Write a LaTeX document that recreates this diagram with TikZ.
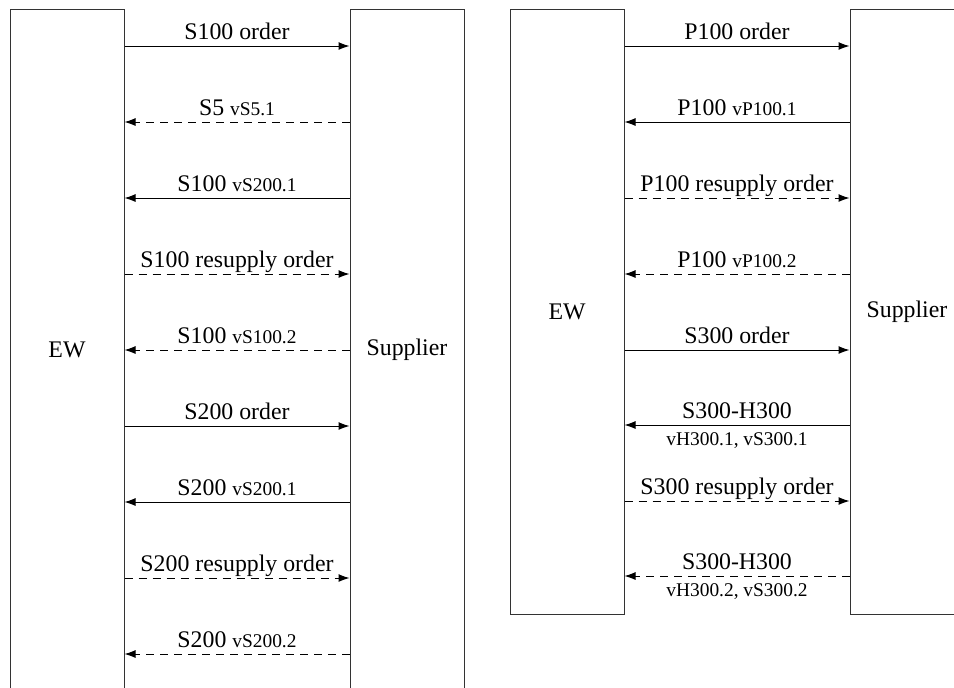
\documentclass[tikz,border=0pt]{standalone}
\usepackage{fontspec}
\setmainfont{Liberation Serif}
\usetikzlibrary{arrows.meta}
\newcommand\lblsmall{\fontsize{9.7}{11}\selectfont}
\begin{document}
\begin{tikzpicture}[x=0.5pt,y=-0.5pt,
  lane/.style={draw=black!80, line width=0.5pt, minimum width=57pt, inner sep=0pt, font=\fontsize{11.9}{14}\selectfont},
  msg/.style={line width=0.5pt, -{Latex[length=5.5pt,width=4pt]}},
  dsh/.style={dash pattern=on 4pt off 3pt},
  lbl/.style={midway, anchor=base, inner sep=0pt, yshift=3.5pt, font=\fontsize{11.9}{14}\selectfont},
  lblb/.style={midway, anchor=base, inner sep=0pt, yshift=-10pt, font=\lblsmall}]
\useasboundingbox (0,0) rectangle (954,687);
\clip (0,0) rectangle (954,687);
\node[lane, minimum height=341pt] (ew1) at (67,350) {EW};
\node[lane, minimum height=341pt] (sp1) at (407,350) {Supplier};
\node[lane, minimum height=302.5pt] (ew2) at (567,311.5) {EW};
\node[lane, minimum height=302.5pt] (sp2) at (907,311.5) {Supplier};
% left diagram
\draw[msg] (ew1.east |- 0,46) -- (sp1.west |- 0,46) node[lbl] {S100 order};
\draw[msg,dsh] (sp1.west |- 0,122) -- (ew1.east |- 0,122) node[lbl] {S5 {\lblsmall vS5.1}};
\draw[msg] (sp1.west |- 0,198) -- (ew1.east |- 0,198) node[lbl] {S100 {\lblsmall vS200.1}};
\draw[msg,dsh] (ew1.east |- 0,274) -- (sp1.west |- 0,274) node[lbl] {S100 resupply order};
\draw[msg,dsh] (sp1.west |- 0,350) -- (ew1.east |- 0,350) node[lbl] {S100 {\lblsmall vS100.2}};
\draw[msg] (ew1.east |- 0,426) -- (sp1.west |- 0,426) node[lbl] {S200 order};
\draw[msg] (sp1.west |- 0,502) -- (ew1.east |- 0,502) node[lbl] {S200 {\lblsmall vS200.1}};
\draw[msg,dsh] (ew1.east |- 0,578) -- (sp1.west |- 0,578) node[lbl] {S200 resupply order};
\draw[msg,dsh] (sp1.west |- 0,654) -- (ew1.east |- 0,654) node[lbl] {S200 {\lblsmall vS200.2}};
% right diagram
\draw[msg] (ew2.east |- 0,46) -- (sp2.west |- 0,46) node[lbl] {P100 order};
\draw[msg] (sp2.west |- 0,122) -- (ew2.east |- 0,122) node[lbl] {P100 {\lblsmall vP100.1}};
\draw[msg,dsh] (ew2.east |- 0,198) -- (sp2.west |- 0,198) node[lbl] {P100 resupply order};
\draw[msg,dsh] (sp2.west |- 0,274) -- (ew2.east |- 0,274) node[lbl] {P100 {\lblsmall vP100.2}};
\draw[msg] (ew2.east |- 0,350) -- (sp2.west |- 0,350) node[lbl] {S300 order};
\draw[msg] (sp2.west |- 0,425) -- (ew2.east |- 0,425) node[lbl] {S300-H300} node[lblb] {vH300.1, vS300.1};
\draw[msg,dsh] (ew2.east |- 0,501) -- (sp2.west |- 0,501) node[lbl] {S300 resupply order};
\draw[msg,dsh] (sp2.west |- 0,576) -- (ew2.east |- 0,576) node[lbl] {S300-H300} node[lblb] {vH300.2, vS300.2};
\end{tikzpicture}
\end{document}
